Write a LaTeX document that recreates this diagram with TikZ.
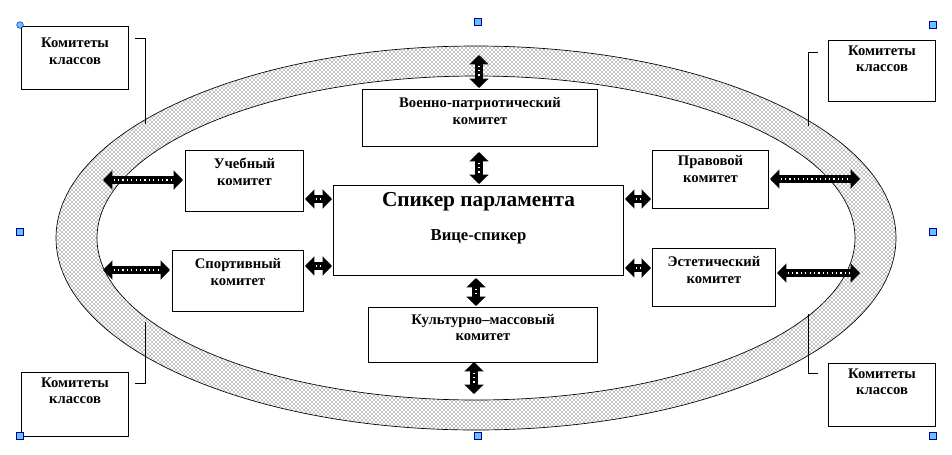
\documentclass[tikz,border=0pt]{standalone}
\usepackage{fontspec}
\setmainfont{Liberation Serif}
\usetikzlibrary{patterns,arrows.meta}
\begin{document}
\begin{tikzpicture}[x=0.75pt,y=-0.75pt,
  box/.style={draw,line width=0.8pt,fill=white,anchor=north west,inner sep=0pt},
  lbl/.style={anchor=north,font=\bfseries\fontsize{11}{12.5}\selectfont,align=center,inner sep=1pt},
  big/.style={line width=6.5pt,{Triangle[length=7pt,width=14pt]}-{Triangle[length=7pt,width=14pt]}},
  dots/.style={white,line width=0.9pt,dash pattern=on 0.9pt off 2.4pt,shorten <=8pt,shorten >=8pt},
  callout/.style={line width=0.6pt},
  handle/.style={fill=blue!40!cyan!60,draw=blue!60!black,line width=0.3pt,minimum size=5pt,inner sep=0pt}]
\useasboundingbox (0,0) rectangle (952,454);
% ring
\fill[pattern=crosshatch dots,pattern color=black,even odd rule]
  (476,238) ellipse [x radius=420,y radius=192] (476,238) ellipse [x radius=379,y radius=162];
\draw[line width=0.5pt] (476,238) ellipse [x radius=420,y radius=192];
\draw[line width=0.5pt] (476,238) ellipse [x radius=379,y radius=162];
% ring coordinates
\coordinate (rt) at (479,55);
\coordinate (rb) at (474,394);
\coordinate (rl1) at (103,180);
\coordinate (rl2) at (103,270);
\coordinate (rr1) at (860,179);
\coordinate (rr2) at (860,273);
% class committees
\node[box,minimum width=107*0.75pt,minimum height=63*0.75pt] (ktl) at (21,26) {};
\node[lbl] (ktlt) at ([yshift=-8pt]ktl.north) {Комитеты\\классов};
\node[box,minimum width=107*0.75pt,minimum height=61*0.75pt] (ktr) at (828,40) {};
\node[lbl] (ktrt) at ([yshift=-3pt]ktr.north) {Комитеты\\классов};
\node[box,minimum width=107*0.75pt,minimum height=64*0.75pt] (kbl) at (21,372) {};
\node[lbl] (kblt) at ([yshift=-3pt]kbl.north) {Комитеты\\классов};
\node[box,minimum width=107*0.75pt,minimum height=63*0.75pt] (kbr) at (828,363) {};
\node[lbl] (kbrt) at ([yshift=-3pt]kbr.north) {Комитеты\\классов};
% callout lines
\coordinate (c1a) at (135,38); \coordinate (c1b) at (145,38); \coordinate (c1c) at (145,124);
\draw[callout] (c1a)--(c1b)--(c1c);
\coordinate (c2a) at (818,52); \coordinate (c2b) at (808,52); \coordinate (c2c) at (808,126);
\draw[callout] (c2a)--(c2b)--(c2c);
\coordinate (c3a) at (135,383); \coordinate (c3b) at (145,383); \coordinate (c3c) at (145,322);
\draw[callout] (c3a)--(c3b)--(c3c);
\coordinate (c4a) at (818,373); \coordinate (c4b) at (808,373); \coordinate (c4c) at (808,314);
\draw[callout] (c4a)--(c4b)--(c4c);
% inner boxes
\node[box,minimum width=235*0.75pt,minimum height=57*0.75pt] (mil) at (362,89) {};
\node[lbl] (milt) at ([yshift=-5pt]mil.north) {Военно-патриотический\\комитет};
\node[box,minimum width=118*0.75pt,minimum height=61*0.75pt] (ucheb) at (185,150) {};
\node[lbl] (uchebt) at ([yshift=-5pt]ucheb.north) {Учебный\\комитет};
\node[box,minimum width=290*0.75pt,minimum height=90*0.75pt] (sp) at (333,185) {};
\node[anchor=north,font=\bfseries\fontsize{16}{18}\selectfont,inner sep=0pt] (spt) at ([yshift=-5pt]sp.north) {Спикер парламента};
\node[anchor=north,font=\bfseries\fontsize{12.5}{14}\selectfont,inner sep=0pt] (spt2) at ([yshift=-33pt]sp.north) {Вице-спикер};
\node[box,minimum width=116*0.75pt,minimum height=58*0.75pt] (prav) at (652,150) {};
\node[lbl] (pravt) at ([yshift=-3pt]prav.north) {Правовой\\комитет};
\node[box,minimum width=131*0.75pt,minimum height=61*0.75pt] (sport) at (172,250) {};
\node[lbl] (sportt) at ([yshift=-5pt]sport.north) {Спортивный\\комитет};
\node[box,minimum width=123*0.75pt,minimum height=58*0.75pt] (est) at (652,248) {};
\node[lbl] (estt) at ([yshift=-5pt]est.north) {Эстетический\\комитет};
\node[box,minimum width=229*0.75pt,minimum height=55*0.75pt] (kult) at (368,307) {};
\node[lbl] (kultt) at ([yshift=-4pt]kult.north) {Культурно–массовый\\комитет};
% arrows
\coordinate (a1) at (479,88); \coordinate (a2) at (479,152); \coordinate (a3) at (479,184);
\coordinate (a4) at (476,278); \coordinate (a5) at (476,306);
\coordinate (a6) at (474,362);
\coordinate (u1) at (183,180); \coordinate (s1) at (170,270);
\coordinate (u2) at (305,199); \coordinate (u3) at (332,199);
\coordinate (s2) at (305,266); \coordinate (s3) at (332,266);
\coordinate (p2) at (625,199); \coordinate (p3) at (651,199);
\coordinate (e2) at (625,268); \coordinate (e3) at (651,268);
\coordinate (p1) at (770,179); \coordinate (e1) at (777,273);
\foreach \a/\b in {rt/a1,a2/a3,a4/a5,a6/rb,rl1/u1,rl2/s1,u2/u3,s2/s3,p2/p3,e2/e3,p1/rr1,e1/rr2}{
  \draw[big] (\a)--(\b);
  \draw[dots] (\a)--(\b);
}
% selection handles
\node[handle,circle] (h1) at (20,25) {};
\node[handle] (h2) at (478,22) {};
\node[handle] (h3) at (933,25) {};
\node[handle] (h4) at (20,232) {};
\node[handle] (h5) at (933,232) {};
\node[handle] (h6) at (20,436) {};
\node[handle] (h7) at (478,436) {};
\node[handle] (h8) at (933,436) {};
\end{tikzpicture}
\end{document}
